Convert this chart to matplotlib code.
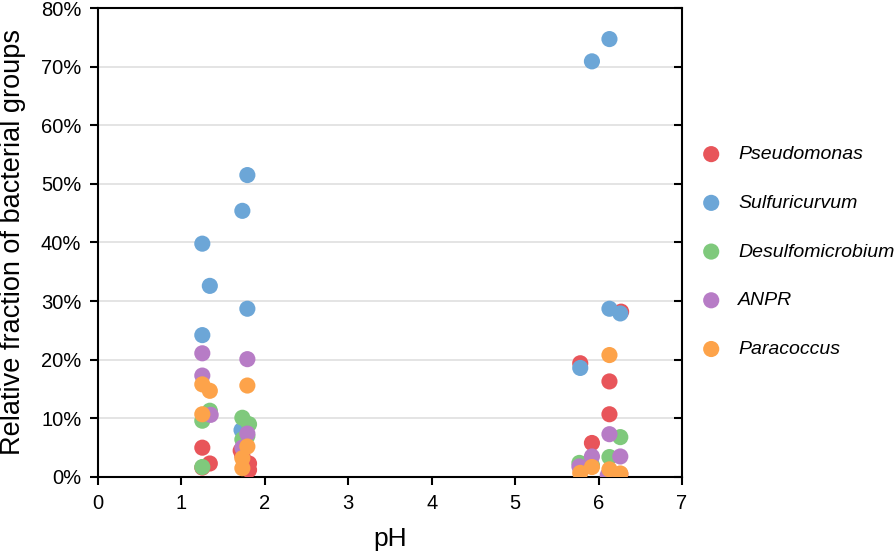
import matplotlib
matplotlib.use("Agg")
import matplotlib.pyplot as plt
from matplotlib.ticker import FuncFormatter

plt.rcParams['font.family'] = ['Liberation Sans', 'DejaVu Sans']

groups = ["Pseudomonas", "Sulfuricurvum", "Desulfomicrobium", "ANPR", "Paracoccus"]
colors = ["#E8555A", "#6CA6D7", "#7FC97C", "#B77CC6", "#FDA34A"]

# pH and relative fraction (%) per group
pseudomonas_ph = [1.25, 1.25, 1.34, 1.71, 1.73, 1.81, 1.81, 5.78, 5.92, 6.13, 6.13, 6.27, 6.26]
pseudomonas_val = [5.0, 1.6, 2.3, 4.5, 3.6, 2.3, 1.2, 19.4, 5.8, 16.3, 10.7, 28.2, 0.5]

sulfuricurvum_ph = [1.25, 1.25, 1.34, 1.73, 1.72, 1.79, 1.79, 5.78, 5.92, 6.13, 6.13, 6.26]
sulfuricurvum_val = [39.8, 24.2, 32.6, 45.4, 8.0, 51.5, 28.7, 18.6, 70.9, 74.7, 28.7, 27.9]

desulfomicrobium_ph = [1.25, 1.25, 1.34, 1.73, 1.73, 1.81, 1.79, 5.77, 5.92, 6.13, 6.26]
desulfomicrobium_val = [9.6, 1.7, 11.3, 10.1, 6.4, 9.0, 7.0, 2.4, 2.0, 3.4, 6.8]

anpr_ph = [1.25, 1.25, 1.35, 1.73, 1.79, 1.79, 5.77, 5.92, 6.13, 6.11, 6.26]
anpr_val = [21.1, 17.3, 10.6, 5.0, 20.1, 7.4, 1.8, 3.5, 7.3, 0.3, 3.5]

paracoccus_ph = [1.25, 1.25, 1.34, 1.73, 1.73, 1.79, 1.79, 5.78, 5.92, 6.13, 6.13, 6.26]
paracoccus_val = [15.8, 10.7, 14.7, 3.2, 1.5, 15.6, 5.2, 0.7, 1.7, 20.8, 1.3, 0.6]

data = [(pseudomonas_ph, pseudomonas_val), (sulfuricurvum_ph, sulfuricurvum_val),
        (desulfomicrobium_ph, desulfomicrobium_val), (anpr_ph, anpr_val),
        (paracoccus_ph, paracoccus_val)]

x_ticks = [0, 1, 2, 3, 4, 5, 6, 7]
y_ticks = [0, 10, 20, 30, 40, 50, 60, 70, 80]

fig = plt.figure(figsize=(8.96, 5.52), dpi=100)
ax = fig.add_axes([0.1094, 0.1359, 0.6518, 0.8496])

for y in y_ticks[1:-1]:
    ax.axhline(y, color="#dcdcdc", linewidth=1.1, zorder=0)

for (ph, val), name, c in zip(data, groups, colors):
    ax.scatter(ph, val, s=135, color=c, edgecolors="none", label=name, zorder=3)

ax.set_xlim(0, 7)
ax.set_ylim(0, 80)
ax.set_xticks(x_ticks)
ax.set_yticks(y_ticks)
ax.yaxis.set_major_formatter(FuncFormatter(lambda v, p: f"{int(v)}%"))

for sp in ax.spines.values():
    sp.set_linewidth(1.5)
    sp.set_color("black")

ax.tick_params(axis="both", labelsize=14.5, width=1.5, length=6, direction="out", colors="black")
ax.tick_params(axis="y", pad=6)
ax.tick_params(axis="x", pad=6)

# right-side inward ticks
ax2 = ax.twinx()
ax2.set_ylim(0, 80)
ax2.set_yticks(y_ticks)
ax2.tick_params(axis="y", direction="in", length=6, width=1.5, labelright=False)
for sp in ax2.spines.values():
    sp.set_visible(False)

ax.set_xlabel("pH", fontsize=19, labelpad=10)
ax.set_ylabel("Relative fraction of bacterial groups", fontsize=19.5, labelpad=11)

leg = ax.legend(loc="center left", bbox_to_anchor=(1.01, 0.48), frameon=False,
                prop={"style": "italic", "size": 14}, labelspacing=1.6,
                handletextpad=0.6, handlelength=1.6, scatterpoints=1, borderaxespad=0)

fig.savefig("out.png", dpi=100)
